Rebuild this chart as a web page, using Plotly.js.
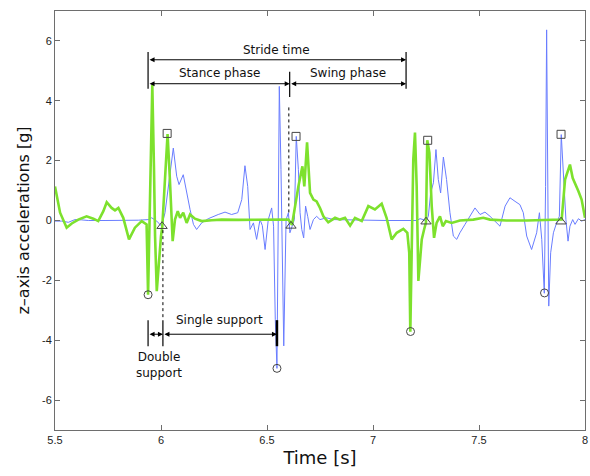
<!DOCTYPE html>
<html>
<head>
<meta charset="utf-8">
<script src="https://cdn.plot.ly/plotly-3.0.1.min.js"></script>
<style>html,body{margin:0;padding:0;background:#fff;}#chart{width:590px;height:476px;}</style>
</head>
<body>
<div id="chart"></div>
<script>
// Blue (thin) series: time [s] and z-axis acceleration [g]
const blueT = [5.500,5.531,5.563,5.594,5.626,5.657,5.736,5.814,5.893,5.940,5.956,5.980,6.003,6.019,6.042,6.058,6.074,6.085,6.105,6.121,6.137,6.153,6.168,6.192,6.223,6.270,6.302,6.333,6.362,6.381,6.396,6.409,6.420,6.436,6.451,6.467,6.478,6.491,6.506,6.522,6.531,6.539,6.547,6.553,6.558,6.566,6.579,6.590,6.601,6.608,6.619,6.629,6.638,6.648,6.656,6.664,6.673,6.682,6.692,6.703,6.719,6.734,6.750,6.781,6.813,6.907,7.064,7.206,7.222,7.237,7.250,7.261,7.272,7.285,7.297,7.308,7.319,7.332,7.347,7.363,7.379,7.395,7.410,7.434,7.458,7.481,7.505,7.528,7.552,7.575,7.599,7.623,7.646,7.670,7.693,7.709,7.725,7.748,7.772,7.785,7.796,7.808,7.814,7.819,7.824,7.829,7.838,7.851,7.866,7.879,7.888,7.898,7.910,7.920,7.929,7.942,7.953,7.969,7.984,8.000];
const blueA = [-0.02,-0.02,-0.06,0.03,0.02,0.00,0.00,0.00,0.01,0.03,0.09,-0.02,-0.19,0.26,1.48,2.42,1.48,1.20,1.53,0.92,0.37,-0.13,-0.30,-0.08,0.06,0.20,0.28,0.20,0.26,0.70,1.83,1.14,-0.30,-0.08,-0.63,0.03,-0.17,-0.97,0.03,0.42,-0.19,-3.30,-4.94,0.03,4.48,1.70,-4.19,0.03,0.26,-0.41,-0.19,0.03,2.81,1.70,0.26,-0.30,-0.58,0.48,0.14,-0.30,0.03,0.14,0.03,0.09,0.03,0.01,0.00,0.00,0.06,0.03,-0.02,0.14,0.92,1.26,2.37,1.37,0.92,2.12,1.37,0.26,-0.52,-0.63,-0.41,-0.13,0.14,0.42,0.20,0.28,0.14,-0.02,-0.19,0.48,0.76,0.64,0.53,0.26,-0.52,-0.97,-0.41,0.26,-0.63,-2.43,1.14,6.37,2.26,-2.86,-1.08,-0.41,-0.08,0.14,2.87,1.70,0.03,-0.69,-0.19,0.03,-0.13,0.06,-0.02,0.03];

// Green (thick) series
const greenT = [5.500,5.524,5.555,5.579,5.610,5.649,5.681,5.704,5.728,5.744,5.767,5.783,5.799,5.822,5.849,5.877,5.909,5.932,5.939,5.948,5.959,5.967,5.972,5.980,5.991,6.000,6.006,6.019,6.031,6.042,6.049,6.055,6.066,6.079,6.090,6.105,6.121,6.137,6.160,6.192,6.239,6.286,6.365,6.443,6.522,6.601,6.618,6.632,6.648,6.667,6.676,6.689,6.703,6.719,6.734,6.750,6.766,6.789,6.821,6.844,6.868,6.892,6.915,6.947,6.978,7.009,7.041,7.064,7.088,7.112,7.143,7.162,7.171,7.176,7.182,7.190,7.198,7.206,7.214,7.230,7.241,7.250,7.256,7.266,7.277,7.288,7.300,7.316,7.329,7.344,7.371,7.410,7.473,7.520,7.552,7.630,7.725,7.819,7.882,7.890,7.906,7.917,7.929,7.942,7.953,7.969,7.984,8.000];
const greenA = [1.14,0.26,-0.24,-0.10,0.03,0.14,0.06,-0.02,0.31,0.61,0.42,0.34,0.42,0.09,-0.63,-0.24,-0.02,-0.13,-2.48,1.14,4.53,1.70,-0.52,-2.36,-1.30,-0.52,-0.21,1.37,2.89,1.37,0.03,-0.69,0.03,0.31,0.09,0.26,-0.08,0.20,0.06,-0.02,0.01,0.03,0.02,0.03,0.02,0.03,-0.14,0.48,1.14,1.81,1.14,2.61,0.92,0.70,0.64,0.42,0.14,-0.06,0.09,0.03,0.09,-0.17,0.09,-0.02,0.48,0.37,0.56,0.09,-0.63,-0.41,-0.28,-0.41,-1.08,-3.72,-0.52,2.03,2.94,1.14,-2.02,-0.63,-0.30,-0.06,2.68,2.26,0.48,-0.58,-0.08,0.14,-0.19,-0.02,-0.08,0.00,0.03,0.09,0.03,0.00,0.00,0.03,0.03,0.03,1.37,1.64,1.87,1.42,1.26,0.98,0.70,0.09];

// Event markers
const circleT = [5.939, 6.547, 7.177, 7.809];
const circleA = [-2.48, -4.94, -3.71, -2.42];
const squareT = [6.029, 6.637, 7.258, 7.887];
const squareA = [2.91, 2.81, 2.68, 2.88];
const triT = [6.005, 6.613, 7.250, 7.887];
const triA = [-0.19, -0.18, -0.04, -0.04];

// Tick values
const xTicks = [5.5, 6, 6.5, 7, 7.5, 8];
const xTickText = ['5.5', '6', '6.5', '7', '7.5', '8'];
const yTicks = [-6, -4, -2, 0, 2, 4, 6];
const yTickText = ['-6', '-4', '-2', '0', '2', '4', '6'];

// Gait event times used by the annotation arrows
const heelStrike1 = 5.939, toeOff = 6.009, heelStrike2 = 6.547, swingStart = 6.607, strideEnd = 7.156;

const markerColor = 'rgb(70,70,70)';
const traces = [
  {x: blueT, y: blueA, type: 'scatter', mode: 'lines', line: {color: 'rgb(105,125,255)', width: 1}, hoverinfo: 'skip'},
  {x: greenT, y: greenA, type: 'scatter', mode: 'lines', line: {color: 'rgb(125,225,45)', width: 2.6}, hoverinfo: 'skip'},
  {x: circleT, y: circleA, type: 'scatter', mode: 'markers', marker: {symbol: 'circle-open', size: 8, color: markerColor, line: {width: 1, color: markerColor}}},
  {x: squareT, y: squareA, type: 'scatter', mode: 'markers', marker: {symbol: 'square-open', size: 8, color: markerColor, line: {width: 1, color: markerColor}}},
  {x: triT, y: triA, type: 'scatter', mode: 'markers', marker: {symbol: 'triangle-up-open', size: 9, color: markerColor, line: {width: 1, color: markerColor}}}
];

function vline(x, y0, y1, w, dash) {
  return {type: 'line', xref: 'x', yref: 'y', x0: x, x1: x, y0: y0, y1: y1,
          line: {color: 'black', width: w, dash: dash || 'solid'}};
}
const shapes = [
  vline(heelStrike1, 4.40, 5.63, 1.2),
  vline(strideEnd, 4.40, 5.63, 1.2),
  vline(swingStart, 4.13, 4.97, 1.2),
  vline(swingStart - 0.004, 0.27, 3.87, 1, 'dot'),
  vline(toeOff, -3.23, -0.23, 1, 'dot'),
  vline(heelStrike1, -3.33, -4.20, 1.2),
  vline(toeOff, -3.33, -4.20, 1.2),
  vline(heelStrike2, -3.33, -4.20, 2.5)
];

function darrow(x0, x1, y) {
  return {x: x1, y: y, ax: x0, ay: y, xref: 'x', yref: 'y', axref: 'x', ayref: 'y', text: '',
          showarrow: true, arrowside: 'end+start', arrowhead: 2, startarrowhead: 2,
          arrowsize: 1, startarrowsize: 1, arrowwidth: 1, arrowcolor: 'black', standoff: 0, startstandoff: 0};
}
const tfont = {family: 'DejaVu Sans', size: 12, color: '#111'};
function label(x, y, text) {
  return {x: x, y: y, xref: 'x', yref: 'y', text: text, showarrow: false, font: tfont, xanchor: 'center', yanchor: 'middle'};
}
const annotations = [
  darrow(heelStrike1, strideEnd, 5.37),
  darrow(heelStrike1, swingStart, 4.57),
  darrow(swingStart, strideEnd, 4.57),
  darrow(heelStrike1, toeOff, -3.80),
  darrow(toeOff, heelStrike2, -3.80),
  label(6.546, 5.70, 'Stride time'),
  label(6.274, 4.93, 'Stance phase'),
  label(6.882, 4.93, 'Swing phase'),
  label(6.274, -3.33, 'Single support'),
  {x: 5.99, y: -4.83, xref: 'x', yref: 'y', text: 'Double<br>support', showarrow: false, font: tfont, align: 'center'}
];

const axisCommon = {
  showgrid: false, zeroline: false, showline: true, linecolor: 'rgb(110,110,110)', linewidth: 1,
  mirror: 'ticks', ticks: 'inside', ticklen: 5, tickcolor: 'rgb(110,110,110)', tickwidth: 1,
  tickfont: {family: 'Liberation Sans', size: 11, color: '#222'}
};

const layout = {
  width: 590, height: 476,
  margin: {l: 55, r: 5, t: 11, b: 46},
  paper_bgcolor: 'white', plot_bgcolor: 'white',
  showlegend: false,
  xaxis: Object.assign({}, axisCommon, {range: [5.5, 8], tickvals: xTicks, ticktext: xTickText,
    title: {text: 'Time [s]', font: {family: 'DejaVu Sans', size: 18, color: '#111'}, standoff: 6}}),
  yaxis: Object.assign({}, axisCommon, {range: [-7, 7], tickvals: yTicks, ticktext: yTickText,
    title: {text: 'z–axis accelerations [g]', font: {family: 'DejaVu Sans', size: 16, color: '#111'}, standoff: 8}}),
  shapes: shapes,
  annotations: annotations
};

Plotly.newPlot('chart', traces, layout, {displayModeBar: false, staticPlot: true});
</script>
</body>
</html>
